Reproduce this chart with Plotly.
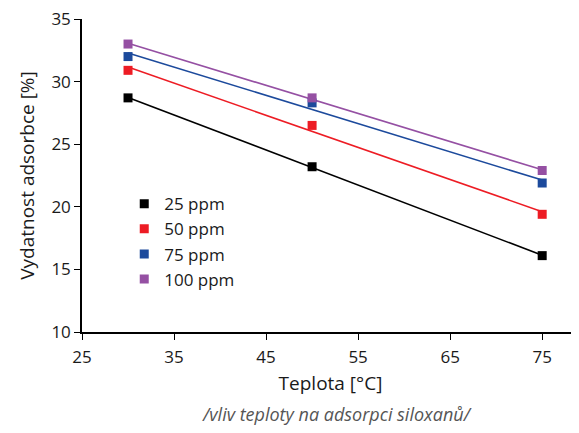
import numpy as np
import plotly.graph_objects as go

temps = [30, 50, 75]
series_names = ["25 ppm", "50 ppm", "75 ppm", "100 ppm"]
vals_25 = [28.7, 23.2, 16.1]
vals_50 = [30.9, 26.5, 19.4]
vals_75 = [32.0, 28.3, 21.9]
vals_100 = [33.0, 28.7, 22.9]
colors = ["#000000", "#ED1C24", "#1C4A9C", "#9550A3"]
x_ticks = [25, 35, 45, 55, 65, 75]
y_ticks = [10, 15, 20, 25, 30, 35]

FONT = "Open Sans"
fig = go.Figure()
all_vals = [vals_25, vals_50, vals_75, vals_100]
for name, vals, c in zip(series_names, all_vals, colors):
    k, q = np.polyfit(temps, vals, 1)
    xf = [temps[0], temps[-1]]
    yf = [k * x + q for x in xf]
    fig.add_trace(go.Scatter(x=xf, y=yf, mode="lines", line=dict(color=c, width=1.6),
                             showlegend=False, hoverinfo="skip"))
for name, vals, c in zip(series_names, all_vals, colors):
    fig.add_trace(go.Scatter(x=temps, y=vals, mode="markers", name=name,
                             marker=dict(symbol="square", size=9, color=c)))

# page body has an 8px default margin, so the figure is sized/offset to compensate
fig.update_layout(
    width=571, height=425,
    margin=dict(l=74, r=0, t=11, b=101),
    paper_bgcolor="white", plot_bgcolor="white",
    font=dict(family=FONT, size=17, color="#1a1a1a"),
    legend=dict(x=0.085, y=0.466, xanchor="left", yanchor="top",
                font=dict(size=17, family=FONT), itemwidth=30,
                tracegroupgap=0, bgcolor="rgba(0,0,0,0)"),
    xaxis=dict(range=[25, 79], tickvals=x_ticks, showline=True, linecolor="black",
               linewidth=1.5, ticks="outside", ticklen=6, tickcolor="black",
               showgrid=False, zeroline=False, automargin=False, ticklabelstandoff=3,
               ticklabeloverflow="allow",
               title=dict(text="Teplota [°C]", font=dict(size=19), standoff=10)),
    yaxis=dict(range=[10, 35], tickvals=y_ticks, showline=True, linecolor="black",
               linewidth=1.5, ticks="outside", ticklen=6, tickcolor="black",
               showgrid=False, zeroline=False, automargin=False,
               ticklabeloverflow="allow",
               title=dict(text="Vydatnost adsorbce [%]", font=dict(size=19), standoff=12)),
    annotations=[dict(text="<i>/vliv teploty na adsorpci siloxanů/</i>", xref="paper", yref="paper",
                      x=0.514, y=-0.262, xanchor="center", yanchor="middle", showarrow=False,
                      font=dict(size=18, color="#555555", family=FONT))],
)
fig.write_html("out.html")
